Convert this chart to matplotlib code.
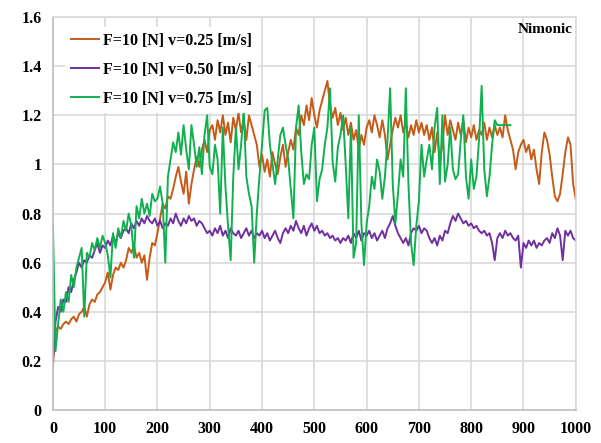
import matplotlib
matplotlib.use('Agg')
import matplotlib.pyplot as plt
import numpy as np

# sliding distance [m], sampled every 5 m
dist_a = np.arange(0, 1001, 5)
dist_c = np.append(np.arange(0, 851, 5), 875)

cof_025 = [
    0.18, 0.32, 0.34, 0.33, 0.35, 0.36, 0.35, 0.37, 0.38, 0.36, 0.39, 0.40, 0.42, 0.38, 0.43, 0.45, 0.44, 0.47, 0.48, 0.50,
    0.52, 0.56, 0.49, 0.55, 0.58, 0.57, 0.60, 0.58, 0.61, 0.66, 0.64, 0.67, 0.62, 0.64, 0.60, 0.63, 0.53, 0.62, 0.68, 0.67,
    0.72, 0.78, 0.84, 0.82, 0.87, 0.86, 0.90, 0.95, 0.99, 0.93, 0.88, 0.97, 0.84, 0.92, 0.98, 1.03, 0.99, 1.06, 1.10, 1.05,
    1.14, 1.16, 1.10, 1.18, 1.13, 1.20, 1.12, 1.17, 1.09, 1.19, 1.14, 1.21, 1.13, 1.18, 1.10, 1.20, 1.16, 1.12, 1.08, 0.99,
    1.04, 0.97, 1.02, 0.95, 1.05, 1.00, 0.96, 1.03, 1.08, 0.99, 1.05, 1.10, 1.06, 1.15, 1.12, 1.20, 1.16, 1.24, 1.18, 1.27,
    1.20, 1.15, 1.22, 1.26, 1.30, 1.34, 1.24, 1.19, 1.23, 1.16, 1.21, 1.14, 1.19, 1.12, 1.17, 1.10, 1.14, 1.06, 1.12, 1.08,
    1.15, 1.18, 1.13, 1.20, 1.16, 1.11, 1.18, 1.12, 1.02, 1.08, 1.14, 1.19, 1.15, 1.20, 1.13, 1.17, 1.11, 1.16, 1.12, 1.18,
    1.13, 1.17, 1.12, 1.16, 1.10, 1.15, 1.05, 1.13, 1.01, 1.08, 1.20, 1.12, 1.18, 1.14, 1.10, 1.17, 1.12, 1.18, 1.09, 1.15,
    1.11, 1.16, 1.10, 1.14, 1.12, 1.17, 1.10, 1.15, 1.11, 1.16, 1.12, 1.15, 1.11, 1.20, 1.14, 1.10, 1.06, 0.98, 1.05, 1.08,
    1.10, 1.05, 1.08, 1.02, 1.06, 0.98, 0.92, 1.05, 1.13, 1.10, 1.04, 0.95, 0.87, 0.85, 0.88, 0.96, 1.05, 1.11, 1.08, 0.92,
    0.86,
]

cof_050 = [
    0.20, 0.36, 0.42, 0.40, 0.45, 0.44, 0.50, 0.48, 0.53, 0.56, 0.60, 0.58, 0.61, 0.60, 0.63, 0.62, 0.65, 0.68, 0.64, 0.67,
    0.66, 0.69, 0.67, 0.71, 0.68, 0.72, 0.70, 0.73, 0.74, 0.72, 0.76, 0.74, 0.77, 0.75, 0.78, 0.76, 0.79, 0.77, 0.76, 0.78,
    0.75, 0.77, 0.74, 0.76, 0.75, 0.78, 0.76, 0.80, 0.77, 0.75, 0.78, 0.76, 0.79, 0.77, 0.78, 0.75, 0.77, 0.76, 0.74, 0.72,
    0.73, 0.71, 0.74, 0.72, 0.75, 0.71, 0.73, 0.70, 0.74, 0.72, 0.71, 0.73, 0.70, 0.72, 0.74, 0.71, 0.73, 0.70, 0.72, 0.71,
    0.73, 0.70, 0.72, 0.69, 0.71, 0.73, 0.70, 0.68, 0.72, 0.74, 0.72, 0.75, 0.73, 0.77, 0.74, 0.72, 0.75, 0.71, 0.74, 0.76,
    0.73, 0.75, 0.72, 0.73, 0.71, 0.72, 0.70, 0.71, 0.69, 0.70, 0.68, 0.70, 0.69, 0.71, 0.68, 0.72, 0.70, 0.73, 0.69, 0.72,
    0.71, 0.73, 0.70, 0.72, 0.69, 0.71, 0.73, 0.70, 0.74, 0.76, 0.79, 0.75, 0.72, 0.70, 0.68, 0.70, 0.67, 0.72, 0.74, 0.73,
    0.75, 0.72, 0.74, 0.73, 0.70, 0.68, 0.70, 0.67, 0.71, 0.69, 0.73, 0.72, 0.76, 0.79, 0.77, 0.80, 0.78, 0.76, 0.77, 0.75,
    0.76, 0.74, 0.75, 0.73, 0.72, 0.73, 0.71, 0.72, 0.68, 0.61, 0.70, 0.72, 0.70, 0.73, 0.71, 0.72, 0.70, 0.69, 0.71, 0.58,
    0.68, 0.66, 0.69, 0.67, 0.69, 0.66, 0.68, 0.67, 0.69, 0.70, 0.68, 0.72, 0.70, 0.74, 0.71, 0.61, 0.73, 0.71, 0.73, 0.70,
    0.69,
]

cof_075 = [
    0.76, 0.24, 0.35, 0.45, 0.40, 0.48, 0.44, 0.55, 0.50, 0.58, 0.62, 0.66, 0.38, 0.64, 0.62, 0.68, 0.65, 0.70, 0.66, 0.71,
    0.68, 0.63, 0.54, 0.72, 0.66, 0.74, 0.70, 0.77, 0.73, 0.80, 0.75, 0.62, 0.83, 0.78, 0.86, 0.80, 0.84, 0.79, 0.88, 0.85,
    0.86, 0.91, 0.84, 0.60, 0.95, 1.02, 1.09, 1.05, 1.13, 1.04, 1.16, 1.06, 0.98, 1.16, 1.08, 0.99, 1.07, 0.96, 1.12, 1.20,
    0.99, 0.96, 1.08, 1.02, 0.80, 1.15, 0.91, 0.75, 0.61, 0.95, 1.15, 0.98, 1.08, 1.22, 0.95, 0.88, 0.83, 0.60, 0.80, 0.95,
    1.08, 1.22, 1.23, 1.08, 1.00, 0.92, 1.02, 1.12, 1.15, 1.08, 1.02, 0.90, 0.78, 1.15, 1.24, 1.05, 0.92, 0.96, 0.94, 1.08,
    1.15, 0.85, 0.94, 0.98, 1.08, 1.15, 1.31, 1.01, 0.93, 1.07, 1.12, 1.20, 1.00, 0.78, 1.15, 0.62, 0.68, 1.20, 0.76, 0.59,
    0.76, 0.83, 0.95, 0.90, 1.02, 0.97, 0.86, 0.95, 1.10, 1.31, 0.92, 0.76, 0.88, 1.02, 0.95, 1.31, 0.92, 0.68, 0.59, 0.75,
    0.85, 1.08, 0.95, 1.02, 1.08, 0.98, 1.15, 1.23, 0.92, 1.20, 0.93, 1.00, 1.15, 0.98, 0.94, 0.96, 1.10, 1.20, 0.95, 0.86,
    1.02, 0.90, 0.95, 1.10, 1.32, 0.98, 0.87, 0.95, 1.08, 1.18, 1.16, 1.16,
]

labels = ['F=10 [N] v=0.25 [m/s]', 'F=10 [N] v=0.50 [m/s]', 'F=10 [N] v=0.75 [m/s]']
colors = ['#C65A17', '#7030A0', '#10B050']

plt.rcParams['font.family'] = 'Liberation Serif'
plt.rcParams['font.weight'] = 'bold'

fig = plt.figure(figsize=(6.01, 4.43), dpi=100)
ax = fig.add_axes([0.088, 0.0745, 0.870, 0.887])

ax.plot(dist_a, cof_025, color=colors[0], lw=1.4, label=labels[0])
ax.plot(dist_a, cof_050, color=colors[1], lw=1.4, label=labels[1])
ax.plot(dist_c, cof_075, color=colors[2], lw=1.4, label=labels[2])

ax.set_xlim(0, 1000)
ax.set_ylim(0, 1.6)
ax.set_xticks(np.arange(0, 1001, 100))
ax.set_yticks(np.arange(0, 1.61, 0.2))
ax.set_yticklabels(['0', '0.2', '0.4', '0.6', '0.8', '1', '1.2', '1.4', '1.6'])
ax.grid(True, color='#d9d9d9', lw=1.2)
ax.set_axisbelow(True)
for s in ax.spines.values():
    s.set_color('#d9d9d9')
    s.set_linewidth(1.2)
ax.spines['bottom'].set_color('#bfbfbf')
ax.spines['left'].set_color('#bfbfbf')
ax.tick_params(length=0, labelsize=11.5, pad=8)

leg = ax.legend(loc='upper left', frameon=True, fontsize=11.5, handlelength=1.75,
                labelspacing=0.8, handletextpad=0.2, borderaxespad=0.6,
                bbox_to_anchor=(0.005, 1.0))
leg.get_frame().set_edgecolor('none')
leg.get_frame().set_facecolor('white')
leg.get_frame().set_alpha(1)

ax.text(0.993, 0.985, 'Nimonic', transform=ax.transAxes, ha='right', va='top',
        fontsize=11, fontweight='bold')

fig.savefig('out.png', dpi=100)
